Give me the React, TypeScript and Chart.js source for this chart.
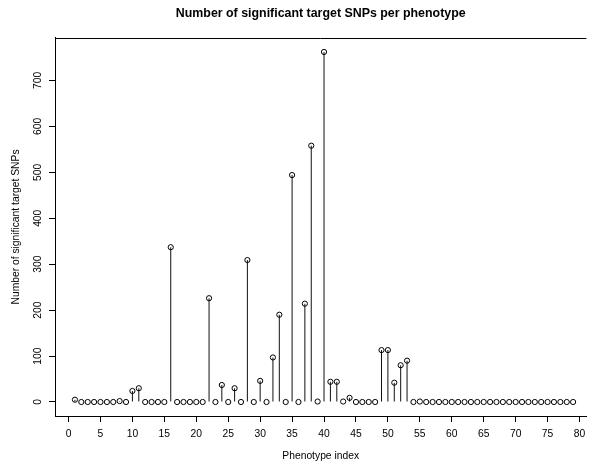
import React, { useEffect, useRef } from "react";
import { Chart, registerables } from "chart.js";

Chart.register(...registerables);

const chartTitle = "Number of significant target SNPs per phenotype";
const xAxisTitle = "Phenotype index";
const yAxisTitle = "Number of significant target SNPs";

// Number of significant target SNPs for phenotype index 1..79
const snpCounts = [
  5, 0, 0, 0, 0, 0, 0, 2, 0, 24,
  30, 0, 0, 0, 0, 337, 0, 0, 0, 0,
  0, 226, 0, 37, 0, 30, 0, 309, 0, 46,
  0, 97, 190, 0, 494, 0, 214, 558, 1, 762,
  44, 44, 1, 9, 0, 0, 0, 0, 113, 113,
  42, 80, 90, 0, 1, 0, 0, 0, 0, 0,
  0, 0, 0, 0, 0, 0, 0, 0, 0, 0,
  0, 0, 0, 0, 0, 0, 0, 0, 0,
];

const xTickValues = [0, 5, 10, 15, 20, 25, 30, 35, 40, 45, 50, 55, 60, 65, 70, 75, 80];
const yTickValues = [0, 100, 200, 300, 400, 500, 600, 700];

const FONT = "'Liberation Sans', Arial, Helvetica, sans-serif";
const AXIS_FONT_SIZE = 10.3;

export default function App() {
  const canvasRef = useRef<HTMLCanvasElement>(null);

  useEffect(() => {
    const canvas = canvasRef.current;
    if (!canvas) return;
    const points = snpCounts.map((v, i) => ({ x: i + 1, y: v }));

    const frameAndLabels = {
      id: "frameAndLabels",
      afterDraw(chart: any) {
        const ctx = chart.ctx;
        const ys = chart.scales.y;
        const a = chart.chartArea;
        ctx.save();
        ctx.fillStyle = "#000";
        ctx.font = `${AXIS_FONT_SIZE}px ${FONT}`;
        ctx.textAlign = "center";
        ctx.textBaseline = "alphabetic";
        yTickValues.forEach((v) => {
          ctx.save();
          ctx.translate(41, ys.getPixelForValue(v));
          ctx.rotate(-Math.PI / 2);
          ctx.fillText(String(v), 0, 0);
          ctx.restore();
        });
        ctx.strokeStyle = "#000";
        ctx.lineWidth = 1;
        ctx.beginPath();
        ctx.moveTo(a.left, Math.round(a.top) + 0.5);
        ctx.lineTo(a.right, Math.round(a.top) + 0.5);
        ctx.stroke();
        ctx.restore();
      },
    };

    const axisFont = { family: FONT, size: AXIS_FONT_SIZE, lineHeight: 1.2 };

    const chart = new Chart(canvas, {
      type: "bar",
      data: {
        datasets: [
          {
            type: "scatter",
            data: points,
            order: 0,
            pointRadius: 2.6,
            pointBorderWidth: 1,
            pointBorderColor: "#000",
            pointBackgroundColor: "rgba(0,0,0,0)",
            pointHoverRadius: 2.6,
          } as any,
          {
            type: "bar",
            data: points,
            order: 1,
            barThickness: 1,
            inflateAmount: 0,
            backgroundColor: "#111",
            borderWidth: 0,
          } as any,
        ],
      },
      options: {
        animation: false,
        responsive: false,
        devicePixelRatio: 1,
        layout: { padding: 0 },
        plugins: {
          legend: { display: false },
          tooltip: { enabled: false },
          title: {
            display: true,
            text: chartTitle,
            fullSize: false,
            color: "#000",
            font: { family: FONT, size: 12.4, weight: "bold", lineHeight: 1.2 },
            padding: { top: 6.6, bottom: 16.5 },
          },
        },
        scales: {
          x: {
            type: "linear",
            min: -2.12,
            max: 81.08,
            offset: false,
            afterBuildTicks: (s: any) => {
              s.ticks = xTickValues.map((v) => ({ value: v }));
            },
            afterFit: (s: any) => {
              s.height = 48;
              s.paddingLeft = 0;
              s.paddingRight = 0;
            },
            ticks: {
              autoSkip: false,
              maxRotation: 0,
              minRotation: 0,
              padding: 5.5,
              color: "#000",
              font: axisFont,
              callback: (v: any) => String(v),
            },
            grid: {
              display: true,
              drawOnChartArea: false,
              drawTicks: true,
              tickLength: 6,
              color: "#000",
              tickColor: "#000",
              lineWidth: 1,
              offset: false,
            },
            border: { display: true, color: "#000", width: 1 },
            title: {
              display: true,
              text: xAxisTitle,
              color: "#000",
              font: axisFont,
              padding: { top: 0, bottom: 2 },
            },
          },
          y: {
            type: "linear",
            min: -30.48,
            max: 792.48,
            afterBuildTicks: (s: any) => {
              s.ticks = yTickValues.map((v) => ({ value: v }));
            },
            afterFit: (s: any) => {
              s.width = 55;
              s.paddingTop = 0;
              s.paddingBottom = 0;
            },
            ticks: { display: false },
            grid: {
              display: true,
              drawOnChartArea: false,
              drawTicks: true,
              tickLength: 6,
              color: "#000",
              tickColor: "#000",
              lineWidth: 1,
            },
            border: { display: true, color: "#000", width: 1 },
            title: {
              display: true,
              text: yAxisTitle,
              color: "#000",
              font: axisFont,
              padding: { top: 9.8, bottom: 0 },
            },
          },
        },
      } as any,
      plugins: [frameAndLabels],
    });

    return () => chart.destroy();
  }, []);

  return (
    <div style={{ position: "absolute", left: 0, top: 0, width: 590, height: 464, background: "#fff" }}>
      <canvas ref={canvasRef} width={590} height={464} style={{ display: "block" }} />
    </div>
  );
}
